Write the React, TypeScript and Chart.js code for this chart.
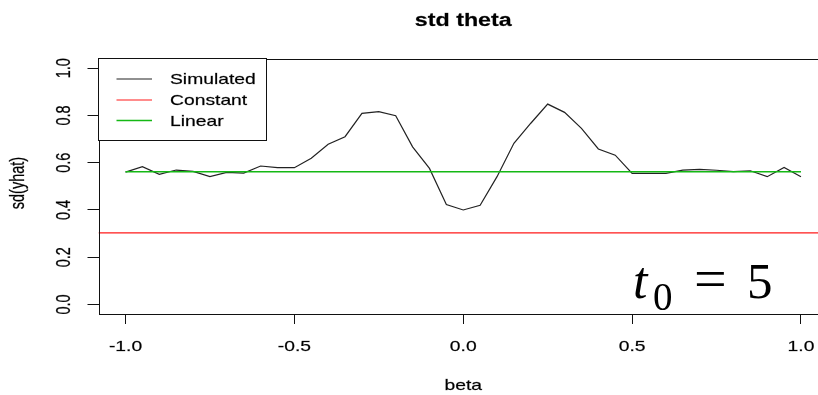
import React, { useEffect, useRef } from 'react';
import { Chart, registerables } from 'chart.js';

Chart.register(...registerables);

// ---- data ----
const betaValues = [
  -1.0, -0.95, -0.9, -0.85, -0.8, -0.75, -0.7, -0.65, -0.6, -0.55,
  -0.5, -0.45, -0.4, -0.35, -0.3, -0.25, -0.2, -0.15, -0.1, -0.05,
  0.0, 0.05, 0.1, 0.15, 0.2, 0.25, 0.3, 0.35, 0.4, 0.45,
  0.5, 0.55, 0.6, 0.65, 0.7, 0.75, 0.8, 0.85, 0.9, 0.95, 1.0,
];
const simulatedSd = [
  0.560, 0.583, 0.551, 0.569, 0.563, 0.541, 0.559, 0.556, 0.586, 0.579,
  0.579, 0.619, 0.678, 0.710, 0.809, 0.816, 0.799, 0.667, 0.576, 0.423,
  0.400, 0.420, 0.541, 0.682, 0.767, 0.848, 0.813, 0.745, 0.658, 0.632,
  0.555, 0.555, 0.555, 0.569, 0.572, 0.568, 0.562, 0.566, 0.541, 0.580, 0.541,
];
const constantSd = 0.303;
const linearSd = 0.562;
const linearBeta = [-1.0, 1.0];
const xRange = [-1.08, 1.08];
const yRange = [-0.04, 1.04];
const xTicks = [-1.0, -0.5, 0.0, 0.5, 1.0];
const yTicks = [0.0, 0.2, 0.4, 0.6, 0.8, 1.0];
const titleText = 'std theta';
const xLabel = 'beta';
const yLabel = 'sd(yhat)';
const legendLabels = ['Simulated', 'Constant', 'Linear'];
const colors = { sim: '#222222', cons: '#ff1a1a', lin: '#14b814' };

const SX = 1.33;
const FONT = 'Liberation Sans, Arial, sans-serif';

function stretchedText(
  ctx: CanvasRenderingContext2D,
  text: string,
  x: number,
  y: number,
  font: string,
  sx: number,
  rot: number,
  align: CanvasTextAlign,
) {
  ctx.save();
  ctx.translate(x, y);
  ctx.scale(sx, 1);
  if (rot) ctx.rotate(rot);
  ctx.font = font;
  ctx.textAlign = align;
  ctx.textBaseline = 'alphabetic';
  ctx.fillStyle = '#000';
  ctx.strokeStyle = 'rgba(0,0,0,0.55)';
  ctx.lineWidth = 0.35;
  ctx.fillText(text, 0, 0);
  ctx.strokeText(text, 0, 0);
  ctx.restore();
}

const decorPlugin = {
  id: 'rdecor',
  afterDraw(chart: any) {
    const ctx: CanvasRenderingContext2D = chart.ctx;
    const { left, right, top, bottom } = chart.chartArea;
    const xs = chart.scales.x;
    const ys = chart.scales.y;

    // plot box
    ctx.save();
    ctx.strokeStyle = '#111';
    ctx.lineWidth = 1;
    ctx.strokeRect(Math.round(left) + 0.5, Math.round(top) + 0.5, Math.round(right - left), Math.round(bottom - top));
    ctx.restore();

    // tick labels
    xTicks.forEach((v) => {
      stretchedText(ctx, v.toFixed(1), xs.getPixelForValue(v), 351, `14.5px ${FONT}`, SX, 0, 'center');
    });
    yTicks.forEach((v) => {
      stretchedText(ctx, v.toFixed(1), 70, ys.getPixelForValue(v), `14.5px ${FONT}`, SX, -Math.PI / 2, 'center');
    });

    // titles
    const cx = (left + right) / 2;
    stretchedText(ctx, titleText, cx, 25.5, `bold 17.5px ${FONT}`, SX, 0, 'center');
    stretchedText(ctx, xLabel, cx, 390, `14.5px ${FONT}`, SX, 0, 'center');
    stretchedText(ctx, yLabel, 24, 183, `14.5px ${FONT}`, SX, -Math.PI / 2, 'center');

    // legend
    ctx.save();
    ctx.fillStyle = '#fff';
    ctx.fillRect(98.5, 58.5, 168, 82);
    ctx.strokeStyle = '#111';
    ctx.lineWidth = 1;
    ctx.strokeRect(98.5, 58.5, 168, 82);
    const ly = [79, 100, 120.5];
    const lc = [colors.sim, colors.cons, colors.lin];
    legendLabels.forEach((lab, i) => {
      ctx.strokeStyle = lc[i];
      ctx.lineWidth = i === 2 ? 1.6 : 1.2;
      ctx.beginPath();
      ctx.moveTo(116.5, ly[i]);
      ctx.lineTo(152, ly[i]);
      ctx.stroke();
      stretchedText(ctx, lab, 170, ly[i] + 5, `14.5px ${FONT}`, SX, 0, 'left');
    });
    ctx.restore();

    // annotation t0 = 5
    ctx.save();
    ctx.fillStyle = '#000';
    ctx.textBaseline = 'alphabetic';
    ctx.textAlign = 'left';
    ctx.font = 'italic 52px Liberation Serif, serif';
    ctx.fillText('t', 633, 298);
    ctx.font = '39px Liberation Serif, serif';
    ctx.fillText('0', 653, 310);
    ctx.font = '58px Liberation Serif, serif';
    ctx.fillText('=', 694, 298);
    ctx.font = '51px Liberation Serif, serif';
    ctx.fillText('5', 747, 298);
    ctx.restore();
  },
};

export default function App() {
  const ref = useRef<HTMLCanvasElement | null>(null);

  useEffect(() => {
    if (!ref.current) return;
    const simData = betaValues.map((b, i) => ({ x: b, y: simulatedSd[i] }));
    const consData = xRange.map((b) => ({ x: b, y: constantSd }));
    const linData = linearBeta.map((b) => ({ x: b, y: linearSd }));

    const chart = new Chart(ref.current, {
      type: 'line',
      data: {
        datasets: [
          {
            label: legendLabels[0],
            data: simData,
            borderColor: colors.sim,
            borderWidth: 1.2,
            pointRadius: 0,
            tension: 0,
            fill: false,
            order: 2,
          },
          {
            label: legendLabels[1],
            data: consData,
            borderColor: colors.cons,
            borderWidth: 1.1,
            pointRadius: 0,
            fill: false,
            order: 1,
          },
          {
            label: legendLabels[2],
            data: linData,
            borderColor: colors.lin,
            borderWidth: 1.5,
            pointRadius: 0,
            fill: false,
            order: 0,
          },
        ],
      },
      options: {
        animation: false,
        responsive: false,
        devicePixelRatio: 1,
        events: [],
        layout: { padding: { top: 58.7, left: 0, right: 32, bottom: 0 } },
        plugins: {
          legend: { display: false },
          title: { display: false },
          tooltip: { enabled: false },
        },
        scales: {
          x: {
            type: 'linear',
            min: xRange[0],
            max: xRange[1],
            afterBuildTicks: (s: any) => {
              s.ticks = xTicks.map((v) => ({ value: v }));
            },
            afterFit: (s: any) => {
              s.height = 81;
            },
            ticks: { display: false },
            border: { display: false },
            grid: {
              display: true,
              drawOnChartArea: false,
              drawTicks: true,
              tickLength: 10,
              color: '#111',
              lineWidth: 1,
            },
          },
          y: {
            type: 'linear',
            min: yRange[0],
            max: yRange[1],
            afterBuildTicks: (s: any) => {
              s.ticks = yTicks.map((v) => ({ value: v }));
            },
            afterFit: (s: any) => {
              s.width = 98.5;
            },
            ticks: { display: false },
            border: { display: false },
            grid: {
              display: true,
              drawOnChartArea: false,
              drawTicks: true,
              tickLength: 11,
              color: '#111',
              lineWidth: 1,
            },
          },
        },
      },
      plugins: [decorPlugin],
    } as any);

    return () => chart.destroy();
  }, []);

  return (
    <div
      style={{
        position: 'fixed',
        left: 0,
        top: 0,
        width: 818,
        height: 395,
        overflow: 'hidden',
        background: '#fff',
      }}
    >
      <canvas ref={ref} width={860} height={395} style={{ display: 'block' }} />
    </div>
  );
}
